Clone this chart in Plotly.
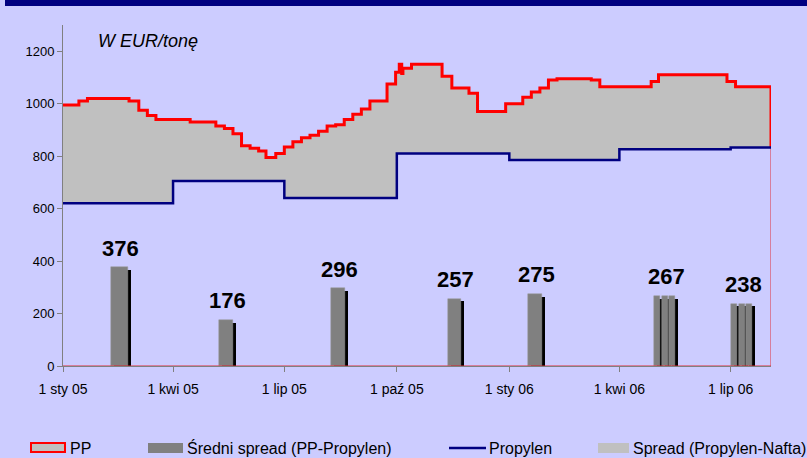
import pandas as pd
import plotly.graph_objects as go

# PP price (EUR/t), step changes
pp_dates = ["2005-01-01", "2005-01-14", "2005-01-21", "2005-02-24", "2005-03-04", "2005-03-11",
            "2005-03-18", "2005-04-15", "2005-05-06", "2005-05-13", "2005-05-20", "2005-05-27",
            "2005-06-03", "2005-06-10", "2005-06-16", "2005-06-24", "2005-07-01", "2005-07-08",
            "2005-07-15", "2005-07-22", "2005-07-29", "2005-08-05", "2005-08-12", "2005-08-19",
            "2005-08-26", "2005-09-02", "2005-09-09", "2005-09-23", "2005-09-30", "2005-10-03",
            "2005-10-05", "2005-10-06", "2005-10-13", "2005-11-07", "2005-11-15", "2005-11-29",
            "2005-12-06", "2005-12-29", "2006-01-12", "2006-01-19", "2006-01-26", "2006-02-02",
            "2006-02-09", "2006-03-09", "2006-03-16", "2006-04-27", "2006-05-03", "2006-06-28",
            "2006-07-05"]
pp_values = [995, 1010, 1020, 1010, 975, 955, 940, 930, 915, 905,
             885, 840, 830, 820, 795, 810, 835, 855, 870, 880,
             895, 915, 920, 940, 960, 980, 1010, 1075, 1120, 1150,
             1115, 1135, 1150, 1105, 1060, 1040, 970, 1000, 1025, 1045,
             1060, 1090, 1095, 1090, 1065, 1085, 1110, 1085, 1065]

# Propylen contract price (quarterly)
propylen_dates = ["2005-01-01", "2005-04-01", "2005-07-01", "2005-10-01",
                  "2006-01-01", "2006-04-01", "2006-07-01"]
propylen_values = [620, 705, 640, 810, 785, 826, 833]

# average spread PP-Propylen
spread_dates = ["2005-02-16", "2005-05-14", "2005-08-14", "2005-11-17", "2006-01-22",
                "2006-05-02", "2006-05-08", "2006-05-14",
                "2006-07-04", "2006-07-10", "2006-07-16"]
spread_values = [376, 176, 296, 257, 275, 267, 267, 267, 238, 238, 238]

end_date = "2006-08-03"
tick_dates = ["2005-01-01", "2005-04-01", "2005-07-01", "2005-10-01",
              "2006-01-01", "2006-04-01", "2006-07-01"]
tick_text = ["1 sty 05", "1 kwi 05", "1 lip 05", "1 paź 05", "1 sty 06", "1 kwi 06", "1 lip 06"]

BG = "#CCCCFF"
FONT = "Arial, Liberation Sans, sans-serif"
DAY = 86400000

# plot area in pixels
L, R, T, B = 63, 771, 25, 366


def px(x):
    return (x - L) / (R - L)


def py(y):
    return (B - y) / (B - T)


fig = go.Figure()

# propylen baseline for fill
fig.add_trace(go.Scatter(x=propylen_dates + [end_date], y=propylen_values + [propylen_values[-1]],
                         mode="lines", line=dict(width=0, shape="hv", color=BG),
                         hoverinfo="skip", showlegend=False))
# PP with gray spread fill
fig.add_trace(go.Scatter(x=pp_dates + [end_date, end_date],
                         y=pp_values + [pp_values[-1], propylen_values[-1]],
                         mode="lines", line=dict(width=3, shape="hv", color="#FF0000"),
                         fill="tonexty", fillcolor="#C0C0C0", name="PP", showlegend=False))
# thin area outline down to zero
fig.add_trace(go.Scatter(x=[end_date, end_date, pp_dates[0]], y=[propylen_values[-1], 0, 0],
                         mode="lines", line=dict(width=1, color="#E0303A"),
                         hoverinfo="skip", showlegend=False))
# propylen line
fig.add_trace(go.Scatter(x=propylen_dates + [end_date], y=propylen_values + [propylen_values[-1]],
                         mode="lines", line=dict(width=2.5, shape="hv", color="#000080"),
                         name="Propylen", showlegend=False))

# bars with black shadow
bar_days = [14, 11.5, 11, 10.5, 12, 5, 5, 5, 5, 5, 5]
sd = pd.to_datetime(spread_dates)
shadow_dx = pd.Timedelta(days=2.5)
fig.add_trace(go.Bar(x=sd + shadow_dx, y=[v - 11 for v in spread_values],
                     width=[w * DAY for w in bar_days], marker=dict(color="#000000", line_width=0),
                     hoverinfo="skip", showlegend=False))
fig.add_trace(go.Bar(x=sd, y=spread_values, width=[w * DAY for w in bar_days],
                     marker=dict(color="#808080", line=dict(color="#9A9A9A", width=0.5)),
                     name="Średni spread (PP-Propylen)", showlegend=False))

# value labels, one per group of equal values
groups = []
for d, v in zip(sd, spread_values):
    if groups and groups[-1][1] == v:
        groups[-1][0].append(d)
    else:
        groups.append([[d], v])
for ds, v in groups:
    xc = ds[0] + (ds[-1] - ds[0]) / 2 + shadow_dx / 2
    fig.add_annotation(x=xc, y=v, text=str(v), showarrow=False, yshift=19, yanchor="middle",
                       font=dict(size=22, color="#000000", family=FONT, weight="bold"))

fig.add_annotation(x=px(96), y=py(41), xref="paper", yref="paper", xanchor="left", yanchor="middle",
                   text="<i>W EUR/tonę</i>", showarrow=False, font=dict(size=18, color="#000000", family=FONT))

# top band
shapes = [dict(type="rect", xref="paper", yref="paper", x0=px(5), x1=px(807), y0=py(0), y1=py(6),
               fillcolor="#000080", line_width=0)]

# legend drawn manually
ly = 448
shapes += [
    dict(type="rect", xref="paper", yref="paper", x0=px(31), x1=px(65), y0=py(452), y1=py(443),
         fillcolor="#C0C0C0", line=dict(color="#FF0000", width=2)),
    dict(type="rect", xref="paper", yref="paper", x0=px(148), x1=px(183), y0=py(453), y1=py(443),
         fillcolor="#808080", line_width=0),
    dict(type="line", xref="paper", yref="paper", x0=px(449), x1=px(486), y0=py(ly), y1=py(ly),
         line=dict(color="#000080", width=2.5)),
    dict(type="rect", xref="paper", yref="paper", x0=px(598), x1=px(629), y0=py(453), y1=py(443),
         fillcolor="#C0C0C0", line_width=0),
]
for x0, t in [(68, "PP"), (185, "Średni spread (PP-Propylen)"), (487, "Propylen"),
              (631, "Spread (Propylen-Nafta)")]:
    fig.add_annotation(x=px(x0), y=py(ly), xref="paper", yref="paper", xanchor="left", yanchor="middle",
                       text=t, showarrow=False, font=dict(size=16, color="#000000", family=FONT))

fig.update_layout(
    width=807, height=458,
    margin=dict(l=L, r=807 - R, t=T, b=458 - B),
    paper_bgcolor=BG, plot_bgcolor=BG,
    barmode="overlay", bargap=0,
    showlegend=False,
    shapes=shapes,
    font=dict(family=FONT, size=13, color="#000000"),
)
fig.update_xaxes(type="date", range=[pp_dates[0], end_date], tickvals=tick_dates, ticktext=tick_text,
                 showgrid=False, zeroline=False, showline=True, linecolor="#808080", linewidth=1,
                 ticks="outside", ticklen=5, tickcolor="#808080", ticklabelstandoff=5,
                 tickfont=dict(size=14))
fig.update_yaxes(range=[0, 1300], tickvals=list(range(0, 1201, 200)), showgrid=False, zeroline=False,
                 showline=True, linecolor="#808080", linewidth=1, ticks="outside", ticklen=5,
                 tickcolor="#808080", tickfont=dict(size=13))

# page body has a default margin; remove it so the figure sits at the window corner
fig.write_html("out.html", config={"displayModeBar": False},
               post_script="document.body.style.margin='0';document.body.style.overflow='hidden';")
